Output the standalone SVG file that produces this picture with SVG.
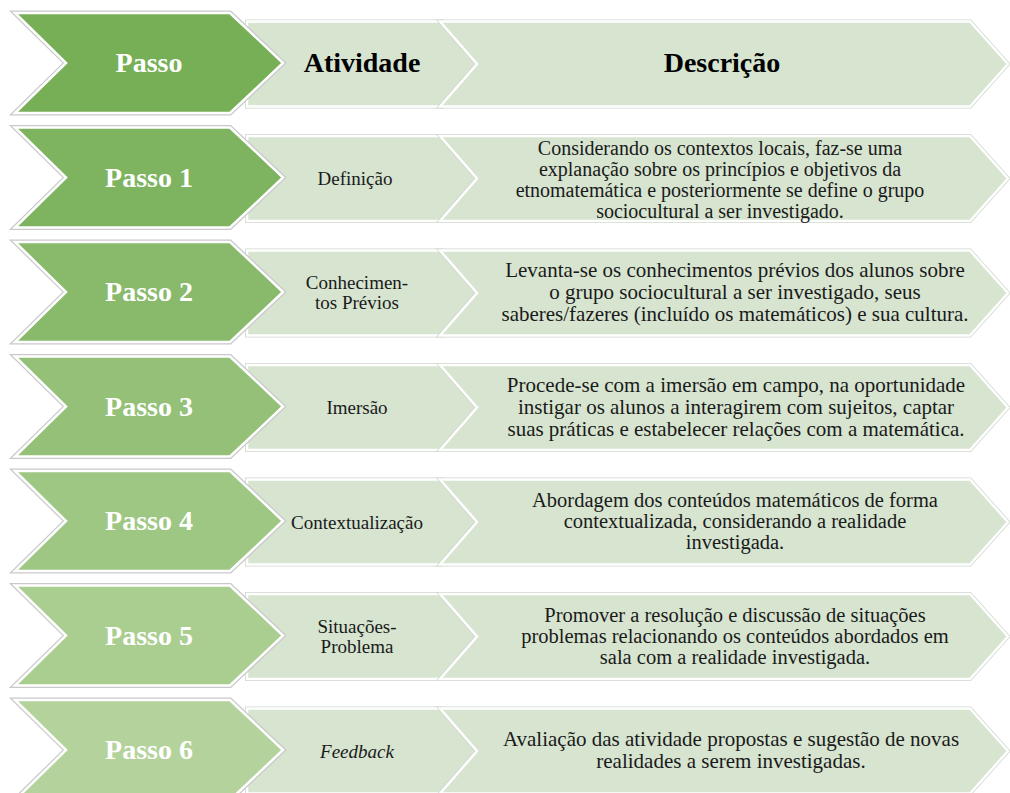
<svg xmlns="http://www.w3.org/2000/svg" xmlns:xlink="http://www.w3.org/1999/xlink" width="1010" height="793" viewBox="0 0 1010 793" font-family="Liberation Serif, DejaVu Serif, serif">
<style>
text{font-family:'Liberation Serif','DejaVu Serif',serif}
.pg{stroke:#ffffff;stroke-width:2.5;stroke-linejoin:miter}
.og{fill:none;stroke:#c9c9c9;stroke-width:5}
.lt{fill:#d6e4d0;stroke:#ffffff;stroke-width:2.5}
.ol{fill:none;stroke:#cfd6cc;stroke-width:4}
.ps{font-weight:bold;font-size:28px;fill:#ffffff;text-anchor:middle}
.hd{font-weight:bold;font-size:28px;fill:#000000;text-anchor:middle}
.md{font-size:19px;fill:#1a1a1a;text-anchor:middle}
.ds{fill:#1a1a1a;text-anchor:middle}
</style>
<defs>
<path id="cg" d="M15,0 H230 L283,50 L230,100 H15 L66,50 Z"/>
<path id="cm" d="M247,8.5 H442 L477,51 L442,93.5 H247 Z"/>
<path id="cd" d="M440,8.5 H970 L1008,51 L970,93.5 H440 L477,51 Z"/>
<g id="lights">
<use xlink:href="#cm" class="ol"/>
<use xlink:href="#cm" class="lt"/>
<use xlink:href="#cd" class="ol"/>
<use xlink:href="#cd" class="lt"/>
<use xlink:href="#cg" class="og"/>
</g>
</defs>

<g id="header" transform="translate(0,13)">
<use xlink:href="#lights"/>
<use xlink:href="#cg" class="pg" fill="#77af56"/>
<text class="ps" x="149" y="59">Passo</text>
<text class="hd" x="362" y="59">Atividade</text>
<text class="hd" x="722" y="59">Descrição</text>
</g>

<g id="passo1" transform="translate(0,127.5)">
<use xlink:href="#lights"/>
<use xlink:href="#cg" class="pg" fill="#7eb460"/>
<text class="ps" x="149" y="59">Passo 1</text>
<text class="md" x="355" y="57.5">Definição</text>
<g class="ds" font-size="20">
<text x="720" y="27">Considerando os contextos locais, faz-se uma</text>
<text x="720" y="48">explanação sobre os princípios e objetivos da</text>
<text x="720" y="69">etnomatemática e posteriormente se define o grupo</text>
<text x="720" y="90">sociocultural a ser investigado.</text>
</g>
</g>

<g id="passo2" transform="translate(0,242)">
<use xlink:href="#lights"/>
<use xlink:href="#cg" class="pg" fill="#89ba6b"/>
<text class="ps" x="149" y="59">Passo 2</text>
<text class="md" x="357" y="47">Conhecimen-</text>
<text class="md" x="357" y="67">tos Prévios</text>
<g class="ds" font-size="21">
<text x="735" y="35">Levanta-se os conhecimentos prévios dos alunos sobre</text>
<text x="735" y="57">o grupo  sociocultural a ser investigado, seus</text>
<text x="735" y="79">saberes/fazeres (incluído os matemáticos) e sua cultura.</text>
</g>
</g>

<g id="passo3" transform="translate(0,356.5)">
<use xlink:href="#lights"/>
<use xlink:href="#cg" class="pg" fill="#94c177"/>
<text class="ps" x="149" y="59">Passo 3</text>
<text class="md" x="357" y="57.5">Imersão</text>
<g class="ds" font-size="21">
<text x="736" y="35">Procede-se com a imersão em campo, na oportunidade</text>
<text x="736" y="57">instigar os alunos a interagirem com sujeitos, captar</text>
<text x="736" y="79">suas práticas e estabelecer relações com a matemática.</text>
</g>
</g>

<g id="passo4" transform="translate(0,471)">
<use xlink:href="#lights"/>
<use xlink:href="#cg" class="pg" fill="#9fc784"/>
<text class="ps" x="149" y="59">Passo 4</text>
<text class="md" x="357" y="57.5">Contextualização</text>
<g class="ds" font-size="20.5">
<text x="735" y="36">Abordagem dos conteúdos matemáticos de forma</text>
<text x="735" y="57">contextualizada, considerando a realidade</text>
<text x="735" y="78">investigada.</text>
</g>
</g>

<g id="passo5" transform="translate(0,585.5)">
<use xlink:href="#lights"/>
<use xlink:href="#cg" class="pg" fill="#aacd90"/>
<text class="ps" x="149" y="59">Passo 5</text>
<text class="md" x="357" y="47">Situações-</text>
<text class="md" x="357" y="67">Problema</text>
<g class="ds" font-size="20.5">
<text x="735" y="36">Promover a resolução e discussão de situações</text>
<text x="735" y="57">problemas relacionando os  conteúdos abordados em</text>
<text x="735" y="78">sala com a realidade investigada.</text>
</g>
</g>

<g id="passo6" transform="translate(0,700)">
<use xlink:href="#lights"/>
<use xlink:href="#cg" class="pg" fill="#b4d39c"/>
<text class="ps" x="149" y="59">Passo 6</text>
<text class="md" x="357" y="57.5" font-style="italic">Feedback</text>
<g class="ds" font-size="21">
<text x="731" y="46">Avaliação  das atividade propostas e sugestão de novas</text>
<text x="731" y="68">realidades a serem investigadas.</text>
</g>
</g>

<g id="connectors"></g>
</svg>
